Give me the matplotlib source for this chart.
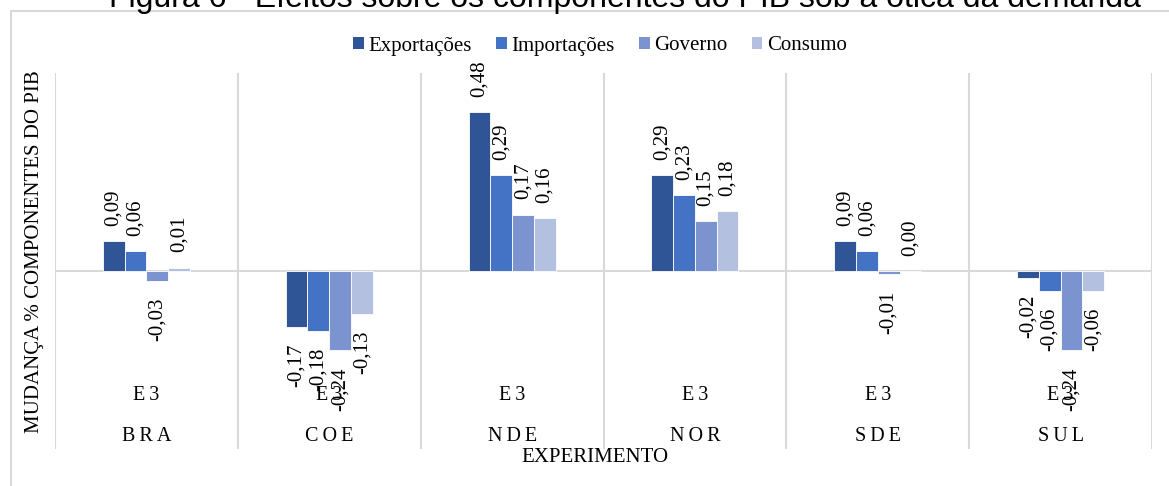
import numpy as np
import matplotlib
matplotlib.use("Agg")
import matplotlib.pyplot as plt
from matplotlib.patches import Rectangle, Patch
import matplotlib.transforms as mtransforms

regioes = ["BRA", "COE", "NDE", "NOR", "SDE", "SUL"]
experimento = "E3"
series = ["Exportações", "Importações", "Governo", "Consumo"]
exportacoes = [0.09, -0.17, 0.48, 0.29, 0.09, -0.02]
importacoes = [0.06, -0.18, 0.29, 0.23, 0.06, -0.06]
governo = [-0.03, -0.24, 0.17, 0.15, -0.01, -0.24]
consumo = [0.01, -0.13, 0.16, 0.18, 0.00, -0.06]
cores = ["#2F5597", "#4472C4", "#7B93CF", "#B4C0E0"]

W, H = 1169, 486
fig = plt.figure(figsize=(W / 100, H / 100), dpi=100)

serif = ["Liberation Serif", "DejaVu Serif"]
plt.rcParams["font.family"] = serif

# moldura cinza do grafico (Excel)
fig.patches.append(Rectangle((11 / W, -0.1), 1.2, 1 - 11 / H + 0.1,
                             transform=fig.transFigure, fill=False,
                             edgecolor="#D9D9D9", linewidth=1.5))

# titulo cortado no topo
fig.text(625 / W, 1 - 7 / H,
         "Figura 6 - Efeitos sobre os componentes do PIB sob a ótica da demanda",
         family="Liberation Sans", fontsize=23, ha="center", va="baseline")

ax = fig.add_axes([55 / W, 1 - 449 / H, (1152 - 55) / W, (449 - 73) / H])
ax.set_xlim(0, len(regioes))
ax.set_ylim(-0.538, 0.598)
for s in ax.spines.values():
    s.set_visible(False)
ax.set_xticks([])
ax.set_yticks([])

grid = "#D9D9D9"
ax.axhline(0, color=grid, linewidth=1.5, zorder=1)
ax.vlines(np.arange(len(regioes) + 1), -0.538, 0.598, color=grid, linewidth=1.5, zorder=1)

x = np.arange(len(regioes)) + 0.5
w = 0.119
valores = [exportacoes, importacoes, governo, consumo]
for i, (nome, vals, cor) in enumerate(zip(series, valores, cores)):
    xs = x + (i - 1.5) * w
    ax.bar(xs, vals, width=w, color=cor, edgecolor="white", linewidth=0.6,
           label=nome, zorder=2)
    for xi, v in zip(xs, vals):
        txt = f"{v:.2f}".replace(".", ",")
        if v >= 0:
            ax.annotate(txt, (xi, v), xytext=(0, 11), textcoords="offset points",
                        rotation=90, ha="center", va="bottom", fontsize=15, zorder=3)
        else:
            ax.annotate(txt, (xi, v), xytext=(0, -12), textcoords="offset points",
                        rotation=90, ha="center", va="top", fontsize=15, zorder=3)

# rotulos de categoria em dois niveis (experimento / regiao)
trans = mtransforms.blended_transform_factory(ax.transData, ax.transAxes)
for xi, r in zip(x, regioes):
    ax.text(xi, (449 - 395) / 376, "E\u20093", transform=trans, ha="center",
            va="center", fontsize=14.5)
    ax.text(xi, (449 - 436) / 376, "\u2009".join(r), transform=trans,
            ha="center", va="center", fontsize=14.5)

fig.text(35 / W, 1 - 252 / H, "MUDANÇA % COMPONENTES DO PIB", rotation=90,
         ha="center", va="center", fontsize=15)
fig.text(595 / W, 1 - 457 / H, "EXPERIMENTO", ha="center", va="center", fontsize=15)

handles = [Patch(facecolor=c, edgecolor="none") for c in cores]
fig.legend(handles, series, loc="center", bbox_to_anchor=(600 / W, 1 - 46 / H),
           ncol=4, frameon=False, fontsize=15, handlelength=0.5, handleheight=0.5,
           handletextpad=0.2, columnspacing=1.2)

fig.savefig("out.png", dpi=100)
